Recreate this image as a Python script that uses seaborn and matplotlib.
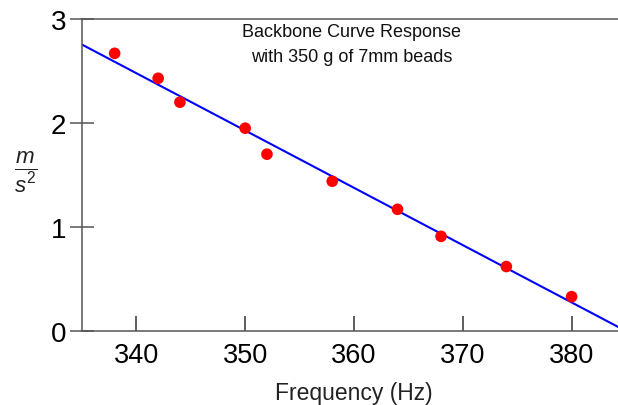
import matplotlib
matplotlib.use("Agg")
import matplotlib.pyplot as plt
import numpy as np
import pandas as pd
import seaborn as sns

# measured backbone points (frequency in Hz, acceleration in m/s^2)
freq_hz = [338, 342, 344, 350, 352, 358, 364, 368, 374, 380]
accel = [2.67, 2.43, 2.20, 1.95, 1.70, 1.44, 1.17, 0.91, 0.62, 0.33]

x_ticks = [340, 350, 360, 370, 380]
y_ticks = [0, 1, 2, 3]
title_lines = ["Backbone Curve Response", "with 350 g of 7mm beads"]

sns.set_style("ticks")
plt.rcParams.update(
    {
        "font.family": ["Liberation Sans", "DejaVu Sans"],
        "mathtext.fontset": "custom",
        "mathtext.rm": "Liberation Sans",
        "mathtext.it": "Liberation Sans:italic",
    }
)

df = pd.DataFrame({"freq": freq_hz, "accel": accel})

fig = plt.figure(figsize=(6.18, 4.06), dpi=100)
ax = fig.add_axes([82 / 618, 74 / 406, 544 / 618, 312 / 406])
ax.set_xlim(335, 385)
ax.set_ylim(0, 3)

# least-squares line across the whole axis, then the points on top
sns.regplot(
    data=df, x="freq", y="accel", ax=ax, scatter=False, ci=None,
    truncate=False, line_kws={"color": "#0000ff", "lw": 1.5},
)
sns.scatterplot(
    data=df, x="freq", y="accel", ax=ax, color="#ff0000",
    s=70, edgecolor="none", zorder=3,
)
ax.set_xlim(335, 385)
ax.set_ylim(0, 3)

ax.set_xticks(x_ticks)
ax.set_yticks(y_ticks)
ax.tick_params(axis="x", direction="in", length=10.8, width=1.1,
               color="#333333", labelsize=19.5, labelcolor="black", pad=8)
ax.tick_params(axis="y", direction="inout", length=17, width=1.1,
               color="#555555", labelsize=20, labelcolor="black", pad=3)

for side in ["left", "bottom", "top"]:
    ax.spines[side].set_color("#555555")
    ax.spines[side].set_linewidth(1.1)
ax.spines["right"].set_visible(False)

ax.set_xlabel("Frequency (Hz)", fontsize=16.5, color="#222222", labelpad=9)
ax.set_ylabel("")
fig.text(26 / 618, 0.575, r"$\frac{m}{s^2}$", fontsize=23,
         ha="center", va="center", color="#222222")

ax.text(359.8, 2.76, "\n".join(title_lines), ha="center", va="center",
        fontsize=13, color="#111111", linespacing=1.55)

fig.savefig("out.png", dpi=100)
